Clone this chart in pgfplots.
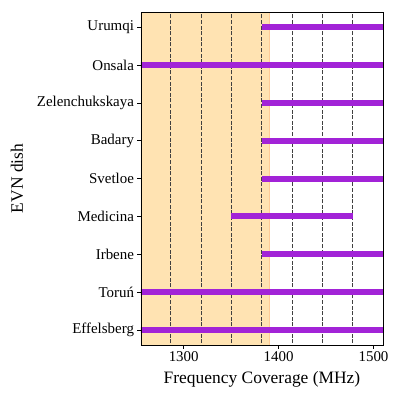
\documentclass[border=0pt]{standalone}
\usepackage{fontspec}
\setmainfont{Liberation Serif}
\usepackage{pgfplots}
\pgfplotsset{compat=1.18}

\definecolor{bandshade}{RGB}{255,227,178}
\definecolor{barpurple}{RGB}{162,35,215}

\begin{document}
\begin{tikzpicture}[x=1bp,y=1bp]
\begin{axis}[
    name=main,
    scale only axis,
    width=242bp, height=333bp,
    xmin=1255, xmax=1510,
    ymin=-0.4, ymax=8.4,
    xtick={1300,1400,1500},
    ytick={0,1,2,3,4,5,6,7,8},
    yticklabels={Effelsberg,Toruń,Irbene,Medicina,Svetloe,Badary,Zelenchukskaya,Onsala,Urumqi},
    tick align=outside,
    xtick pos=bottom, ytick pos=left,
    major tick length=3.5bp,
    tick style={black, line width=0.6pt},
    /pgf/number format/assume math mode=true,
    /pgf/number format/1000 sep={},
    ticklabel style={font=\fontsize{15}{18}\selectfont},
    xlabel={Frequency Coverage (MHz)},
    ylabel={EVN dish},
    label style={font=\fontsize{17.5}{21}\selectfont},
    ylabel style={yshift=7bp},
    xlabel style={yshift=-2bp},
    axis line style={black, line width=0.8pt},
    axis on top,
    clip=true,
]
% shaded band
\addplot[draw=orange!40, line width=0.4pt, fill=bandshade] coordinates {
    (1250,-0.5) (1390,-0.5) (1390,8.5) (1250,8.5)
} -- cycle;

% 32 MHz sub-band boundaries
\pgfplotsinvokeforeach{1286,1318,1350,1382,1414,1446,1478}{
  \addplot[black!75, line width=0.5pt, dash pattern=on 4bp off 1.6bp] coordinates {(#1,-0.5) (#1,8.5)};
}

% coverage per dish
\addplot[barpurple, line width=6bp] coordinates {(1250,0) (1515,0)}; % Effelsberg
\addplot[barpurple, line width=6bp] coordinates {(1250,1) (1515,1)}; % Torun
\addplot[barpurple, line width=6bp] coordinates {(1382,2) (1515,2)}; % Irbene
\addplot[barpurple, line width=6bp] coordinates {(1350,3) (1478,3)}; % Medicina
\addplot[barpurple, line width=6bp] coordinates {(1382,4) (1515,4)}; % Svetloe
\addplot[barpurple, line width=6bp] coordinates {(1382,5) (1515,5)}; % Badary
\addplot[barpurple, line width=6bp] coordinates {(1382,6) (1515,6)}; % Zelenchukskaya
\addplot[barpurple, line width=6bp] coordinates {(1250,7) (1515,7)}; % Onsala
\addplot[barpurple, line width=6bp] coordinates {(1382,8) (1515,8)}; % Urumqi
\end{axis}
\path[use as bounding box] (main.south west) ++(-141bp,-54bp) rectangle ++(399bp,399bp);
\end{tikzpicture}
\end{document}
